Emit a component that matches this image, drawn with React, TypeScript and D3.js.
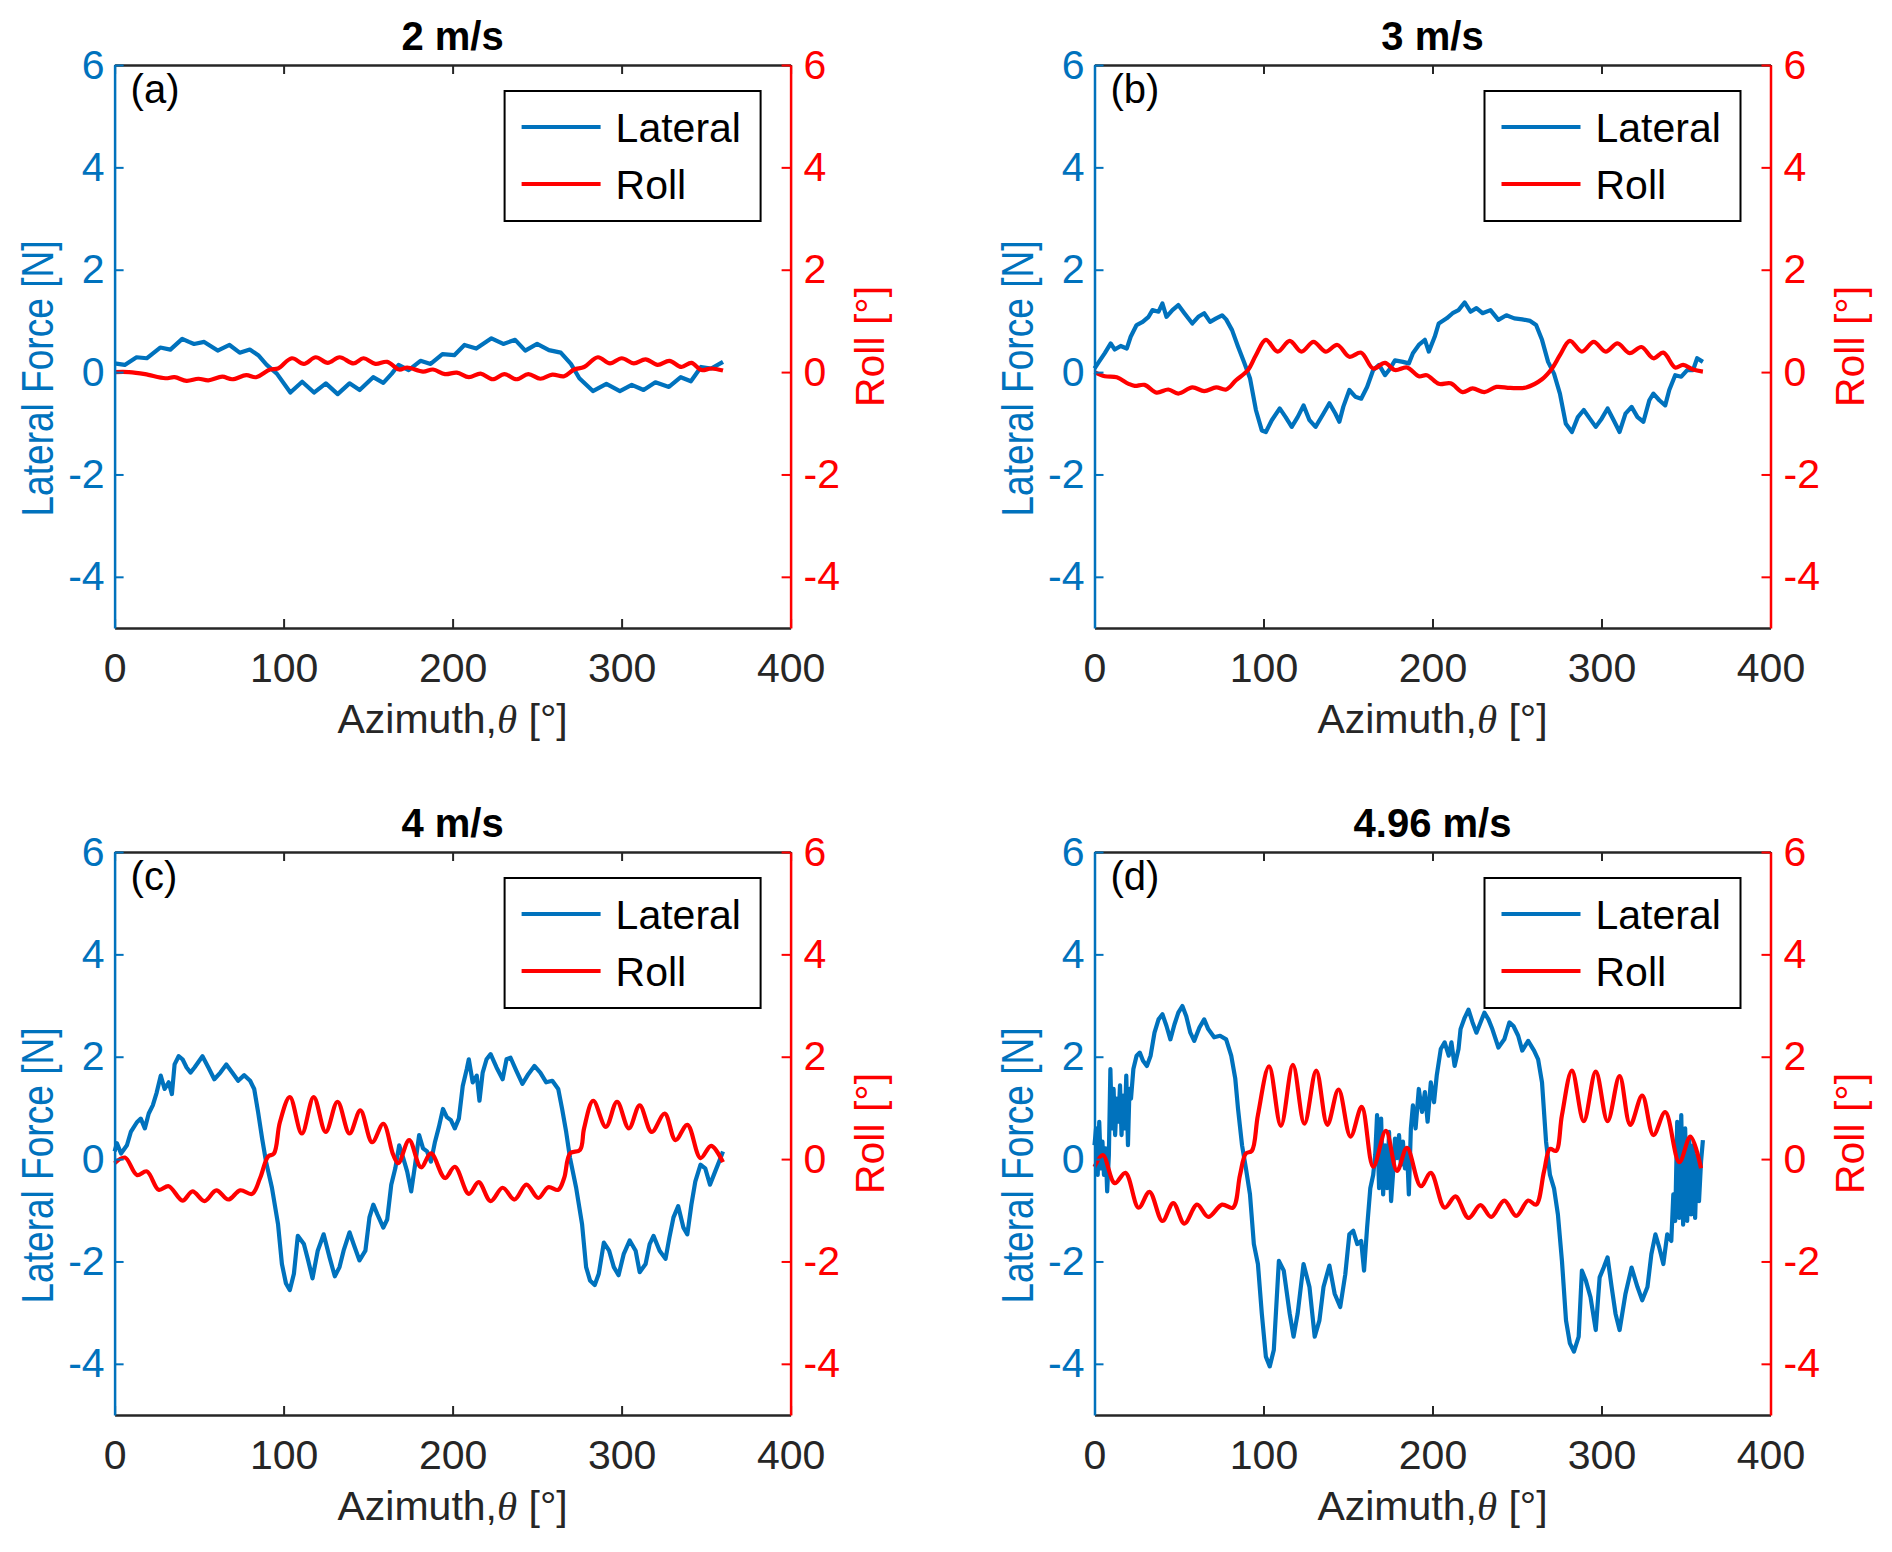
import { useEffect, useRef } from "react";
import * as d3 from "d3";

// panel titles, tags and ticks
const titles = ["2 m/s", "3 m/s", "4 m/s", "4.96 m/s"];
const tags = ["(a)", "(b)", "(c)", "(d)"];
const xTicks = [0, 100, 200, 300, 400];
const yTicks = [-4, -2, 0, 2, 4, 6];
const legendNames = ["Lateral", "Roll"];

// [azimuth deg, lateral force N] / [azimuth deg, roll deg]
const lateralA: [number, number][] = [
  [0, 0.17], [6, 0.14], [13, 0.29], [19, 0.27], [27, 0.48], [33, 0.44], [40, 0.65], [44, 0.59], [47, 0.55],
  [53, 0.59], [61, 0.42], [68, 0.53], [74, 0.38], [80, 0.44], [85, 0.33], [90, 0.14], [96, -0.03], [104, -0.4],
  [111, -0.19], [118, -0.4], [125, -0.22], [132, -0.43], [139, -0.22], [145, -0.35], [153, -0.1], [159, -0.21],
  [164, -0.03], [168, 0.14], [174, 0.04], [181, 0.22], [187, 0.16], [194, 0.35], [201, 0.33], [207, 0.53],
  [214, 0.46], [223, 0.66], [230, 0.55], [237, 0.63], [243, 0.42], [250, 0.55], [257, 0.43], [264, 0.38],
  [270, 0.16], [275, -0.12], [283, -0.37], [291, -0.23], [299, -0.37], [306, -0.25], [313, -0.35], [320, -0.2],
  [328, -0.29], [335, -0.1], [341, -0.18], [347, 0.1], [353, 0.07], [360, 0.2],
];
const rollA: [number, number][] = [
  [0, 0], [8.5, 0], [18, -0.04], [30, -0.12], [35.5, -0.1], [42.6, -0.17], [49.6, -0.13], [55.5, -0.16],
  [63.7, -0.09], [69.6, -0.14], [77.9, -0.06], [83.7, -0.1], [92, 0.05], [96.7, 0.07], [104.9, 0.27], [112, 0.16],
  [119, 0.29], [126.1, 0.18], [133.1, 0.29], [141.4, 0.17], [147.2, 0.27], [154.3, 0.16], [161.3, 0.2],
  [168.4, 0.05], [173.1, 0.09], [182.5, 0.01], [188.4, 0.05], [195.5, -0.04], [202.5, -0.01], [209.6, -0.1],
  [216.6, -0.03], [223.7, -0.14], [230.7, -0.04], [237.8, -0.14], [244.8, -0.04], [251.9, -0.13], [259, -0.05],
  [266, -0.08], [271.9, 0.05], [277.8, 0.1], [286, 0.29], [293.1, 0.17], [300.1, 0.27], [307.2, 0.17],
  [314.2, 0.25], [321.3, 0.14], [328.3, 0.22], [335.4, 0.1], [341.3, 0.18], [347.2, 0.04], [353, 0.07], [360, 0.03],
];

const lateralB: [number, number][] = [
  [0, 0.07], [2.6, 0.2], [6.1, 0.37], [9.6, 0.56], [12, 0.44], [15.5, 0.51], [19.1, 0.46], [21.4, 0.69],
  [24.9, 0.92], [28.5, 0.98], [32, 1.08], [34.3, 1.21], [37.9, 1.18], [40.2, 1.34], [42.6, 1.08], [46.1, 1.21],
  [49.6, 1.31], [53.2, 1.15], [57.9, 0.95], [61.4, 1.08], [64.9, 1.15], [68.4, 0.98], [72, 1.05], [75.5, 1.11],
  [77.9, 1.03], [81.4, 0.82], [84.9, 0.5], [88.4, 0.2], [92, -0.12], [95.5, -0.74], [99, -1.14], [101.4, -1.17],
  [104.9, -0.94], [109.6, -0.71], [113.1, -0.88], [116.7, -1.07], [120.2, -0.88], [123.7, -0.65], [127.2, -0.94],
  [130.8, -1.07], [135.5, -0.81], [139, -0.61], [142.5, -0.81], [144.9, -0.97], [147.2, -0.68], [150.8, -0.35],
  [154.3, -0.48], [157.8, -0.52], [161.3, -0.29], [164.9, 0.04], [168.4, 0.14], [171.9, -0.06], [174.3, 0.04],
  [177.8, 0.23], [182.5, 0.2], [186, 0.17], [188.4, 0.37], [191.9, 0.53], [195.5, 0.63], [197.8, 0.4],
  [201.3, 0.69], [203.7, 0.95], [208.4, 1.05], [211.9, 1.15], [215.4, 1.21], [219, 1.36], [222.5, 1.18],
  [226, 1.25], [229.6, 1.15], [234.3, 1.21], [239, 1.02], [243.7, 1.11], [248.4, 1.05], [253.1, 1.03],
  [257.8, 1.0], [261.3, 0.92], [264.8, 0.63], [268.4, 0.2], [271.9, -0.03], [275.4, -0.42], [278.9, -1.01],
  [282.5, -1.17], [286, -0.88], [289.5, -0.74], [293.1, -0.91], [296.6, -1.07], [300.1, -0.91], [303.6, -0.71],
  [307.2, -0.94], [310.7, -1.17], [314.2, -0.81], [317.8, -0.68], [321.3, -0.88], [324.8, -0.97], [328.3, -0.55],
  [330.7, -0.42], [334.2, -0.55], [337.7, -0.65], [340.1, -0.35], [343.6, -0.06], [347.2, -0.09], [350.7, 0.04],
  [354.2, 0.04], [356.6, 0.27], [360, 0.2],
];
const rollB: [number, number][] = [
  [0, 0], [6.1, -0.08], [13.2, -0.1], [20.2, -0.23], [23.8, -0.27], [29.6, -0.25], [36.7, -0.4], [43.7, -0.34],
  [49.6, -0.42], [57.9, -0.3], [64.9, -0.37], [72, -0.3], [77.9, -0.34], [83.7, -0.16], [90.8, 0.04], [95.5, 0.33],
  [101.4, 0.63], [108.4, 0.4], [115.5, 0.61], [122.5, 0.4], [129.6, 0.59], [136.7, 0.4], [143.7, 0.53],
  [150.8, 0.3], [157.8, 0.38], [164.9, 0.07], [171.9, 0.18], [177.8, 0.04], [184.9, 0.09], [191.9, -0.08],
  [196.6, -0.06], [203.7, -0.23], [210.7, -0.22], [217.8, -0.39], [223.7, -0.32], [230.7, -0.39], [237.8, -0.29],
  [246, -0.31], [255.4, -0.3], [264.8, -0.14], [270.7, 0.07], [275.4, 0.33], [281.3, 0.61], [288.4, 0.4],
  [295.4, 0.59], [302.5, 0.4], [309.5, 0.56], [316.6, 0.37], [323.6, 0.49], [330.7, 0.27], [336.6, 0.38],
  [343.6, 0.09], [348.3, 0.14], [354.2, 0.05], [360, 0.01],
];

const lateralC: [number, number][] = [
  [0, 0.15], [1.4, 0.31], [3.8, 0.11], [7.3, 0.27], [9.6, 0.53], [13.2, 0.72], [15.5, 0.79], [17.9, 0.6],
  [20.2, 0.89], [22.6, 1.05], [24.9, 1.3], [27.3, 1.63], [29.6, 1.37], [32, 1.5], [33.9, 1.27], [35.5, 1.85],
  [37.9, 2.01], [40.2, 1.95], [42.6, 1.79], [44.9, 1.69], [47.3, 1.79], [52, 2.01], [55.5, 1.79], [59, 1.56],
  [62.6, 1.69], [66.1, 1.85], [69.6, 1.69], [73.1, 1.53], [76.7, 1.64], [80.2, 1.53], [82.6, 1.37], [84.9, 0.92],
  [87.3, 0.4], [89.6, -0.05], [93.1, -0.56], [96.7, -1.27], [99, -2.05], [101.4, -2.43], [103.7, -2.56],
  [106.1, -2.24], [108.4, -1.5], [112, -1.66], [114.3, -1.95], [117.1, -2.33], [120.2, -1.79], [123.7, -1.47],
  [127.2, -1.92], [130.3, -2.29], [133.1, -2.11], [135.5, -1.79], [139, -1.43], [141.4, -1.66], [144.9, -1.98],
  [148.4, -1.79], [150.8, -1.14], [153.1, -0.89], [155.5, -1.08], [159, -1.34], [161.3, -1.18], [163.7, -0.5],
  [166.1, -0.18], [168.4, 0.27], [170.8, 0.02], [173.1, -0.24], [175.5, -0.63], [177.8, -0.11], [180.2, 0.47],
  [182.5, 0.21], [184.9, 0.15], [187.2, -0.05], [189.6, 0.34], [191.9, 0.63], [194.3, 0.98], [196.6, 0.82],
  [199, 0.76], [201.3, 0.6], [203.7, 0.79], [206, 1.43], [208.4, 1.76], [209.6, 1.95], [211.9, 1.5],
  [214.3, 1.63], [215.9, 1.14], [217.8, 1.69], [220.1, 1.95], [222.5, 2.05], [226, 1.79], [229.6, 1.56],
  [231.9, 1.95], [234.3, 1.98], [237.8, 1.72], [241.3, 1.47], [244.8, 1.66], [248.4, 1.82], [251.9, 1.69],
  [255.4, 1.5], [259, 1.53], [262.5, 1.37], [264.8, 0.98], [267.2, 0.53], [269.5, 0.02], [273.1, -0.56],
  [276.6, -1.27], [279, -2.11], [281.3, -2.37], [284.1, -2.46], [286.5, -2.24], [289.5, -1.63], [292.6, -1.79],
  [295.4, -2.11], [298.2, -2.27], [301.3, -1.85], [304.8, -1.59], [308.3, -1.79], [310.7, -2.21], [314.2, -2.05],
  [316.6, -1.66], [318.9, -1.5], [322.5, -1.79], [326, -1.95], [328.3, -1.53], [330.7, -1.14], [333.5, -0.92],
  [336.6, -1.34], [338.9, -1.47], [341.3, -0.89], [343.6, -0.44], [346.7, -0.11], [349.5, -0.18], [352.3, -0.5],
  [355.4, -0.24], [357.7, -0.05], [360, 0.15],
];
const rollC: [number, number][] = [
  [0, -0.08], [6.1, 0.03], [13.2, -0.31], [19.1, -0.24], [26.1, -0.6], [32, -0.53], [40.2, -0.81], [46.1, -0.63],
  [53.2, -0.82], [60.2, -0.61], [67.3, -0.79], [74.3, -0.61], [81.4, -0.68], [86.1, -0.37], [90.8, 0.05],
  [94.3, 0.11], [97.8, 0.72], [103.7, 1.21], [110.8, 0.5], [117.8, 1.21], [124.9, 0.53], [131.9, 1.12],
  [139, 0.5], [145.4, 0.95], [152.4, 0.33], [159, 0.69], [164.9, 0.08], [167.9, -0.08], [174.3, 0.37],
  [181.3, -0.16], [187.2, 0.11], [195.5, -0.37], [201.3, -0.15], [209.6, -0.68], [215.4, -0.45], [222.5, -0.82],
  [229.6, -0.56], [236.6, -0.79], [243.7, -0.5], [250.7, -0.76], [256.6, -0.55], [262.5, -0.6], [266, -0.37],
  [269.5, 0.11], [275.4, 0.18], [277.8, 0.6], [283.2, 1.14], [290.7, 0.63], [297.3, 1.12], [304.3, 0.6],
  [310.7, 1.05], [317.8, 0.53], [325.5, 0.89], [331.9, 0.37], [338.9, 0.67], [346.7, 0.02], [353, 0.26],
  [360, -0.06],
];

const lateralD: [number, number][] = [
  [0, 0.27], [0.9, 0.6], [1.9, -0.31], [2.8, 0.73], [3.8, -0.18], [4.7, 0.34], [5.6, -0.31], [6.6, 0.21],
  [7.5, -0.63], [8.5, 0.08], [9.4, 1.76], [10.3, 0.6], [11.3, 1.37], [12.2, 0.47], [13.2, 1.18], [14.1, 0.73],
  [15.1, 1.44], [16, 0.47], [16.9, 1.24], [17.9, 0.6], [18.8, 1.63], [19.8, 0.27], [20.7, 1.37], [21.6, 1.18],
  [23, 1.76], [24.9, 2.02], [26.8, 2.08], [28.7, 1.92], [31, 1.82], [33.2, 2.02], [35.5, 2.47], [37.9, 2.73],
  [40.2, 2.83], [42.6, 2.6], [44.9, 2.34], [47.3, 2.63], [49.6, 2.86], [52, 2.99], [54.3, 2.79], [56.7, 2.47],
  [59, 2.31], [62.1, 2.57], [64.9, 2.73], [67.3, 2.54], [70.8, 2.38], [74.3, 2.41], [77.9, 2.34], [80.9, 2.02],
  [83.3, 1.57], [84.9, 0.99], [87.3, 0.27], [89.6, -0.18], [92, -0.69], [94.3, -1.66], [96.7, -2.05], [99, -3.02],
  [101.4, -3.86], [103.7, -4.05], [106.1, -3.73], [109.1, -1.99], [112, -2.18], [115.5, -3.02], [117.8, -3.47],
  [120.2, -3.02], [123.7, -2.05], [127.2, -2.5], [130.3, -3.47], [133.1, -3.15], [135.5, -2.5], [139, -2.08],
  [142.1, -2.63], [145.4, -2.89], [148.4, -2.25], [150.8, -1.47], [153.1, -1.4], [155.5, -1.66], [157.8, -1.6],
  [159.5, -2.18], [161.3, -1.34], [163.2, -0.57], [164.9, -0.31], [166.1, 0.08], [167.2, 0.86], [168.4, -0.57],
  [169.6, 0.79], [170.8, -0.69], [171.9, 0.27], [173.1, -0.57], [174.3, 0.53], [175.5, -0.82], [176.6, -0.31],
  [177.8, 0.4], [179, 0.02], [180.2, 0.47], [181.3, -0.11], [182.5, 0.34], [183.7, -0.18], [184.9, 0.21],
  [186, -0.69], [187.2, 0.6], [188.4, 1.05], [190, 0.6], [191.9, 1.37], [193.8, 0.92], [195.5, 1.31],
  [197.1, 0.73], [199, 1.5], [200.9, 1.11], [202.5, 1.63], [204.9, 2.15], [207.2, 2.28], [209.6, 2.02],
  [211.2, 2.28], [213.1, 1.82], [215.4, 2.15], [216.6, 2.54], [219, 2.76], [221.3, 2.92], [223.7, 2.67],
  [226, 2.47], [228.4, 2.67], [230.7, 2.86], [233.1, 2.73], [235.4, 2.54], [239, 2.18], [242.5, 2.34],
  [245.5, 2.67], [247.9, 2.6], [250.7, 2.41], [253.1, 2.12], [256.6, 2.31], [260.1, 2.12], [262.5, 1.95],
  [264.8, 1.5], [267.2, 0.34], [269.5, -0.31], [271.9, -0.57], [274.2, -1.08], [276.6, -1.99], [279, -3.15],
  [281.3, -3.6], [283.7, -3.76], [286.5, -3.47], [288.4, -2.18], [290.7, -2.37], [293.5, -2.7], [296.6, -3.34],
  [298.9, -2.31], [301.3, -2.12], [303.6, -1.92], [306, -2.5], [308.3, -3.02], [310.7, -3.34], [314.2, -2.63],
  [317.8, -2.12], [321.3, -2.5], [324.1, -2.76], [327.2, -2.5], [329.5, -1.86], [331.9, -1.47], [334.2, -1.73],
  [336.6, -2.05], [338.9, -1.47], [341.3, -1.6], [342.5, -0.69], [343.6, -1.21], [344.8, 0.73], [346, -1.15],
  [347.2, 0.86], [348.3, -1.28], [349.5, 0.6], [350.7, -1.21], [351.9, 0.4], [353, -1.08], [354.2, 0.27],
  [355.4, -1.15], [356.6, 0.08], [357.7, -0.82], [358.9, -0.05], [360, 0.37],
];
const rollD: [number, number][] = [
  [0, -0.15], [4.9, 0.08], [12, -0.47], [18.3, -0.27], [26.1, -0.95], [32.5, -0.64], [40.2, -1.21], [46.6, -0.86],
  [53.2, -1.26], [60.7, -0.89], [67.3, -1.13], [75.5, -0.89], [81.9, -0.95], [86.1, -0.31], [89.6, 0.11],
  [93.1, 0.16], [96.7, 0.86], [103.3, 1.81], [110.3, 0.65], [117.4, 1.84], [124.2, 0.69], [131.2, 1.73],
  [137.8, 0.67], [144.4, 1.36], [151.5, 0.44], [158.1, 1.02], [164.9, -0.15], [172.4, 0.55], [179, -0.23],
  [184.9, 0.22], [193.1, -0.53], [199, -0.27], [207.2, -0.95], [213.6, -0.73], [221.3, -1.15], [228.4, -0.9],
  [234.7, -1.13], [242.5, -0.81], [249.5, -1.11], [256.6, -0.81], [261.3, -0.89], [266, -0.24], [269.5, 0.2],
  [273.1, 0.16], [276.6, 0.86], [282.5, 1.73], [289.5, 0.74], [296.6, 1.71], [303.6, 0.74], [310.7, 1.62],
  [317, 0.67], [324.1, 1.24], [330.7, 0.47], [337.7, 0.92], [346, -0.06], [352.6, 0.44], [358.9, -0.18],
];

const lateralSeries = [lateralA, lateralB, lateralC, lateralD];
const rollSeries = [rollA, rollB, rollC, rollD];

const BLUE = "#0072BD";
const RED = "#FF0000";
const INK = "#262626";
const FONT = "'Liberation Sans', Arial, Helvetica, sans-serif";
const LW = 4.2;

export default function App() {
  const ref = useRef<SVGSVGElement>(null);

  useEffect(() => {
    if (!ref.current) return;
    const svg = d3.select(ref.current);
    svg.selectAll("*").remove();

    const W = 676;
    const H = 563;
    const origins = [
      [114.6, 65],
      [1094.5, 65],
      [114.6, 852],
      [1094.5, 852],
    ];

    const x = d3.scaleLinear().domain([0, 400]).range([0, W]);
    const yL = d3.scaleLinear().domain([-5, 6]).range([H, 0]);
    const yR = d3.scaleLinear().domain([-5, 6]).range([H, 0]);
    const fmt = (d: d3.NumberValue) => String(d); // plain hyphen minus, as in MATLAB

    const lateralLine = d3
      .line<[number, number]>()
      .x((d) => x(d[0]))
      .y((d) => yL(d[1]));
    const rollLine = d3
      .line<[number, number]>()
      .x((d) => x(d[0]))
      .y((d) => yR(d[1]))
      .curve(d3.curveCatmullRom.alpha(0.5));

    origins.forEach(([ox, oy], i) => {
      const g = svg.append("g").attr("transform", `translate(${ox},${oy})`);

      g.append("path")
        .attr("d", lateralLine(lateralSeries[i]))
        .attr("fill", "none")
        .attr("stroke", BLUE)
        .attr("stroke-width", LW)
        .attr("stroke-linejoin", "round");
      g.append("path")
        .attr("d", rollLine(rollSeries[i]))
        .attr("fill", "none")
        .attr("stroke", RED)
        .attr("stroke-width", LW)
        .attr("stroke-linejoin", "round");

      // bottom axis
      g.append("g")
        .attr("transform", `translate(0,${H})`)
        .call(d3.axisBottom(x).tickValues(xTicks).tickFormat(fmt).tickSizeInner(-9).tickSizeOuter(0).tickPadding(25))
        .attr("font-size", 41)
        .attr("font-family", FONT)
        .call((a) => {
          a.select(".domain").attr("stroke", INK).attr("stroke-width", 2.5);
          a.selectAll(".tick line").attr("stroke", INK).attr("stroke-width", 2);
          a.selectAll(".tick text").attr("fill", INK);
        });

      // top axis
      g.append("g")
        .call(d3.axisTop(x).tickValues(xTicks).tickSizeInner(-9).tickSizeOuter(0).tickFormat(() => ""))
        .call((a) => {
          a.select(".domain").attr("stroke", INK).attr("stroke-width", 2.5);
          a.selectAll(".tick line").attr("stroke", INK).attr("stroke-width", 2);
        });

      // left axis
      g.append("g")
        .call(d3.axisLeft(yL).tickValues(yTicks).tickFormat(fmt).tickSizeInner(-9).tickSizeOuter(0).tickPadding(10))
        .attr("font-size", 41)
        .attr("font-family", FONT)
        .call((a) => {
          a.select(".domain").attr("stroke", BLUE).attr("stroke-width", 2.5);
          a.selectAll(".tick line").attr("stroke", BLUE).attr("stroke-width", 2);
          a.selectAll(".tick text").attr("fill", BLUE);
        });

      // right axis
      g.append("g")
        .attr("transform", `translate(${W},0)`)
        .call(d3.axisRight(yR).tickValues(yTicks).tickFormat(fmt).tickSizeInner(-9).tickSizeOuter(0).tickPadding(13))
        .attr("font-size", 41)
        .attr("font-family", FONT)
        .call((a) => {
          a.select(".domain").attr("stroke", RED).attr("stroke-width", 2.5);
          a.selectAll(".tick line").attr("stroke", RED).attr("stroke-width", 2);
          a.selectAll(".tick text").attr("fill", RED);
        });

      // title
      g.append("text")
        .attr("x", W / 2)
        .attr("y", -15)
        .attr("text-anchor", "middle")
        .attr("font-family", FONT)
        .attr("font-weight", "bold")
        .attr("font-size", 40)
        .attr("fill", "#000")
        .text(titles[i]);

      // panel tag
      g.append("text")
        .attr("x", 16)
        .attr("y", 38)
        .attr("font-family", FONT)
        .attr("font-size", 40)
        .attr("fill", "#000")
        .text(tags[i]);

      // axis labels
      g.append("text")
        .attr("transform", `translate(-62,${H / 2 + 32}) rotate(-90)`)
        .attr("text-anchor", "middle")
        .attr("font-family", FONT)
        .attr("font-size", 44)
        .attr("textLength", 276)
        .attr("lengthAdjust", "spacingAndGlyphs")
        .attr("fill", BLUE)
        .text("Lateral Force [N]");
      g.append("text")
        .attr("transform", `translate(${W + 93},${H / 2}) rotate(-90)`)
        .attr("text-anchor", "middle")
        .attr("font-family", FONT)
        .attr("font-size", 41)
        .attr("fill", RED)
        .text("Roll [°]");
      const xl = g
        .append("text")
        .attr("x", W / 2)
        .attr("y", H + 105)
        .attr("text-anchor", "middle")
        .attr("font-family", FONT)
        .attr("font-size", 41)
        .attr("fill", INK);
      xl.append("tspan").text("Azimuth,");
      xl.append("tspan")
        .attr("font-family", "'Liberation Serif', 'Times New Roman', serif")
        .attr("font-style", "italic")
        .text("θ");
      xl.append("tspan").text(" [°]");

      // legend
      const lg = g.append("g").attr("transform", "translate(390,26)");
      lg.append("rect")
        .attr("width", 256)
        .attr("height", 130)
        .attr("fill", "#fff")
        .attr("stroke", "#000")
        .attr("stroke-width", 2);
      [BLUE, RED].forEach((c, k) => {
        const ly = 36 + k * 57;
        lg.append("line")
          .attr("x1", 17)
          .attr("x2", 96)
          .attr("y1", ly)
          .attr("y2", ly)
          .attr("stroke", c)
          .attr("stroke-width", LW);
        lg.append("text")
          .attr("x", 111)
          .attr("y", ly + 15)
          .attr("font-family", FONT)
          .attr("font-size", 41)
          .attr("fill", "#000")
          .text(legendNames[k]);
      });
    });
  }, []);

  return (
    <svg
      ref={ref}
      width={1892}
      height={1552}
      style={{ position: "absolute", left: 0, top: 0, background: "#fff" }}
    />
  );
}
